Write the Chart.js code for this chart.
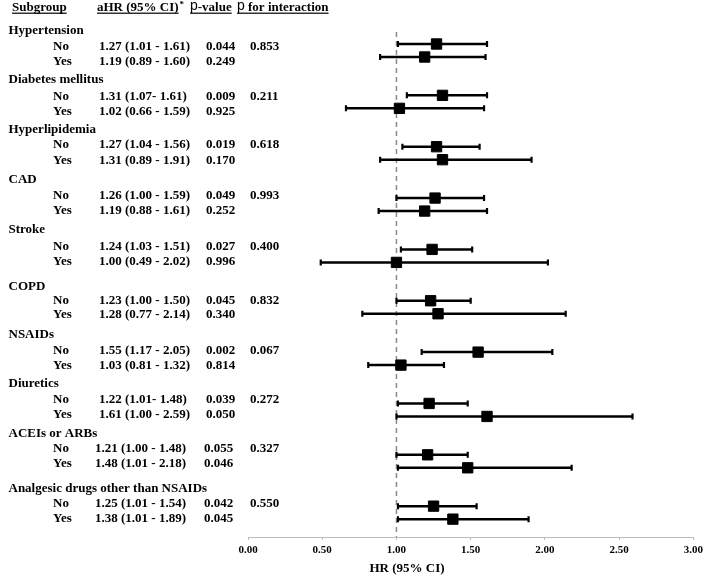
<!DOCTYPE html>
<html>
<head>
<meta charset="utf-8">
<script src="https://cdn.jsdelivr.net/npm/chart.js@4.4.1/dist/chart.umd.min.js"></script>
<style>
  html, body { margin: 0; padding: 0; background: #fff; }
  #wrap { width: 707px; height: 575px; position: relative; }
</style>
</head>
<body>
<div id="wrap"><canvas id="c" width="707" height="575"></canvas></div>
<script>
// ---------- DATA ----------
const groups = ['Hypertension', 'Diabetes mellitus', 'Hyperlipidemia', 'CAD', 'Stroke',
  'COPD', 'NSAIDs', 'Diuretics', 'ACEIs or ARBs', 'Analgesic drugs other than NSAIDs'];
const levels = ['No', 'Yes'];
const hrNo  = [1.27, 1.31, 1.27, 1.26, 1.24, 1.23, 1.55, 1.22, 1.21, 1.25];
const loNo  = [1.01, 1.07, 1.04, 1.00, 1.03, 1.00, 1.17, 1.01, 1.00, 1.01];
const hiNo  = [1.61, 1.61, 1.56, 1.59, 1.51, 1.50, 2.05, 1.48, 1.48, 1.54];
const pNo   = ['0.044', '0.009', '0.019', '0.049', '0.027', '0.045', '0.002', '0.039', '0.055', '0.042'];
const hrYes = [1.19, 1.02, 1.31, 1.19, 1.00, 1.28, 1.03, 1.61, 1.48, 1.38];
const loYes = [0.89, 0.66, 0.89, 0.88, 0.49, 0.77, 0.81, 1.00, 1.01, 1.01];
const hiYes = [1.60, 1.59, 1.91, 1.61, 2.02, 2.14, 1.32, 2.59, 2.18, 1.89];
const pYes  = ['0.249', '0.925', '0.170', '0.252', '0.996', '0.340', '0.814', '0.050', '0.046', '0.045'];
const pInteraction = ['0.853', '0.211', '0.618', '0.993', '0.400', '0.832', '0.067', '0.272', '0.327', '0.550'];
const xTicks = [0, 0.5, 1, 1.5, 2, 2.5, 3];
const refHR = 1.0;
// labels printed without a space before the dash in the source table
const tightDash = ['Diabetes mellitus|No', 'Diuretics|No'];

// ---------- LAYOUT (pixel rows on a 0..537 y scale) ----------
const BAR_TOP = 44, BAR_STRIDE = 51.35, BAR_GAP = 13;
const TXT_HEAD = [31, 80, 130, 180, 230, 287, 335, 384, 434, 489];
const TXT_NO   = [47, 97, 145, 196, 247, 301, 351, 400, 449, 504];
const TXT_YES  = [62, 112, 161, 211, 262, 315, 366, 415, 464, 519];
const SERIF = '"Liberation Serif", "Times New Roman", serif';

function barY(g, lvl) { return BAR_TOP + BAR_STRIDE * g + (lvl === 1 ? BAR_GAP : 0); }

const datasets = [];
// reference line
datasets.push({
  data: [{x: refHR, y: 32}, {x: refHR, y: 537}],
  showLine: true, borderColor: '#8a8a8a', borderWidth: 1.5, borderDash: [5, 4],
  pointRadius: 0, order: 3
});
const pts = [];
groups.forEach((name, g) => {
  [[loNo, hiNo, hrNo], [loYes, hiYes, hrYes]].forEach((arrs, lvl) => {
    const y = barY(g, lvl);
    datasets.push({
      data: [{x: arrs[0][g], y}, {x: arrs[1][g], y}],
      showLine: true, borderColor: '#000', borderWidth: 2.5,
      pointStyle: 'line', rotation: 90, pointRadius: 3,
      pointBorderColor: '#000', pointBorderWidth: 2.2, order: 2
    });
    pts.push({x: arrs[2][g], y});
  });
});
datasets.push({
  data: pts, pointStyle: 'rect', pointRadius: 7.3,
  backgroundColor: '#000', borderColor: '#000', pointBorderWidth: 1, order: 1
});

function ciText(g, lvl) {
  const hr = lvl ? hrYes : hrNo, lo = lvl ? loYes : loNo, hi = lvl ? hiYes : hiNo;
  const sep = tightDash.includes(groups[g] + '|' + levels[lvl]) ? '- ' : ' - ';
  return hr[g].toFixed(2) + ' (' + lo[g].toFixed(2) + sep + hi[g].toFixed(2) + ')';
}

const tablePlugin = {
  id: 'table',
  afterDraw(chart) {
    const ctx = chart.ctx;
    const ys = chart.scales.y;
    ctx.save();
    ctx.fillStyle = '#000';
    ctx.textBaseline = 'alphabetic';
    // header
    const bold = 'bold 13px ' + SERIF;
    ctx.font = bold;
    const under = (x1, x2) => { ctx.fillRect(x1, 12.6, x2 - x1, 1.2); };
    ctx.fillText('Subgroup', 12, 11);
    under(12, 12 + ctx.measureText('Subgroup').width);
    ctx.fillText('aHR (95% CI)', 97, 11);
    const w1 = ctx.measureText('aHR (95% CI)').width;
    under(97, 97 + w1);
    ctx.font = 'bold 9px ' + SERIF;
    ctx.fillText('*', 97 + w1 + 1, 7);
    // p-value
    ctx.font = '14px "Liberation Sans", sans-serif';
    ctx.fillText('p', 190, 10);
    let wp = ctx.measureText('p').width;
    ctx.font = bold;
    ctx.fillText('-value', 190 + wp, 11);
    under(190, 190 + wp + ctx.measureText('-value').width);
    ctx.font = '14px "Liberation Sans", sans-serif';
    ctx.fillText('p', 237, 10);
    ctx.font = bold;
    ctx.fillText(' for interaction', 237 + wp, 11);
    under(237, 237 + wp + ctx.measureText(' for interaction').width);

    // rows
    ctx.textBaseline = 'middle';
    ctx.font = bold;
    groups.forEach((name, g) => {
      ctx.fillText(name, 8.5, ys.getPixelForValue(TXT_HEAD[g]));
      const rows = [TXT_NO[g], TXT_YES[g]];
      const hrX = g >= 8 ? 95 : 99;
      const pX = g >= 8 ? 204 : 206;
      rows.forEach((ty, lvl) => {
        const py = ys.getPixelForValue(ty);
        ctx.fillText(levels[lvl], 53, py);
        ctx.fillText(ciText(g, lvl), hrX, py);
        ctx.fillText((lvl ? pYes : pNo)[g], pX, py);
        if (lvl === 0) ctx.fillText(pInteraction[g], 250, py);
      });
    });
    // axis title
    ctx.textAlign = 'center';
    ctx.fillText('HR (95% CI)', 407, 569);
    ctx.restore();
  }
};

new Chart(document.getElementById('c'), {
  type: 'scatter',
  data: { datasets },
  options: {
    responsive: false,
    animation: false,
    events: [],
    layout: { autoPadding: false, padding: { left: 248, right: 10, top: 0, bottom: 0 } },
    plugins: { legend: { display: false }, tooltip: { enabled: false } },
    scales: {
      x: {
        type: 'linear', min: 0, max: 3,
        afterFit(scale) { scale.height = 38; },
        afterBuildTicks(scale) { scale.ticks = xTicks.map(v => ({ value: v })); },
        grid: { display: true, drawOnChartArea: false, drawTicks: true, tickLength: 3, color: '#bdbdbd', lineWidth: 1 },
        border: { display: true, color: '#bdbdbd', width: 1 },
        ticks: {
          color: '#000', padding: 4, maxRotation: 0, autoSkip: false,
          font: { family: SERIF, size: 11, weight: 'bold' },
          callback: v => Number(v).toFixed(2)
        }
      },
      y: {
        type: 'linear', min: 0, max: 537, reverse: true, display: false
      }
    }
  },
  plugins: [tablePlugin]
});
</script>
</body>
</html>
